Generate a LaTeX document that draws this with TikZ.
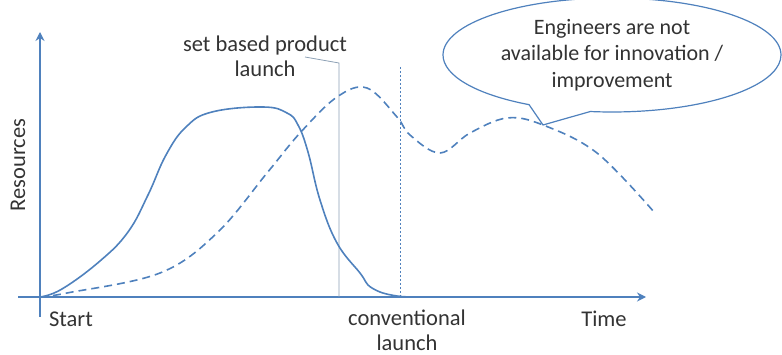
\documentclass[tikz,border=0pt]{standalone}
\usepackage{fontspec}
\setmainfont{Carlito}
\usetikzlibrary{arrows.meta,shapes.callouts,positioning}
\definecolor{officeblue}{RGB}{79,129,189}
\definecolor{leadgray}{RGB}{140,160,180}
\tikzset{
	axis/.style={color=officeblue, line width=2pt, -{Stealth[width=9pt,length=9pt]}},
	curve/.style={color=officeblue, line width=1.6pt},
	dashcurve/.style={color=officeblue, line width=1.6pt, dash pattern=on 8pt off 5pt},
	marker/.style={color=leadgray, line width=0.8pt},
	dotmarker/.style={color=officeblue, line width=0.8pt, dash pattern=on 2pt off 2pt},
	axlabel/.style={font=\fontsize{22.5}{25}\selectfont, text=black!80, inner sep=0pt, align=center},
	bubble/.style={ellipse callout, draw=officeblue, line width=1.2pt, fill=white,
		minimum width=338pt, minimum height=114pt, inner sep=0pt, callout pointer arc=22,
		font=\fontsize{22}{26.5}\selectfont, text=black!80, align=center}
}
\begin{document}
\begin{tikzpicture}[x=1pt,y=-1pt]
	\useasboundingbox (0,0) rectangle (782,355);
	
	%%%% axes
	\coordinate (o) at (40,297);
	\coordinate (ybot) at (40,317);
	\coordinate (ytip) at (40,32);
	\coordinate (xleft) at (18,297);
	\coordinate (xtip) at (646,297);
	\draw[axis] (ybot) -- (ytip);
	\draw[axis] (xleft) -- (xtip);
	
	%%%% labels
	\node[axlabel,rotate=90] (res) at (18,165) {Resources};
	\node[axlabel] (start) at (71,319) {Start};
	\node[axlabel] (time) at (604,319) {Time};
	\node[axlabel] (conv) at (407,330) {conventional\\launch};
	\node[axlabel] (setb) at (265,56) {set based product\\launch};
	
	%%%% launch markers
	\coordinate (leadA) at (305,57);
	\coordinate (leadB) at (339,63);
	\coordinate (setbot) at (339,297);
	\draw[marker] (leadA) -- (leadB) -- (setbot);
	\coordinate (convtop) at (400,67);
	\coordinate (convbot) at (400,297);
	\draw[dotmarker] (convtop) -- (convbot);
	
	%%%% set based curve
	\draw[curve] plot[smooth,tension=0.7] coordinates {
		(40,297) (62,289) (100,261) (128,232) (148,195) (166,155) (186,127)
		(212,112) (263,107) (287,113) (298,125) (308,152) (320,200) (337,243) (360,273)
		(372,288) (397,296) (430,297)};
	
	%%%% conventional curve
	\draw[dashcurve] plot[smooth,tension=0.6] coordinates {
		(40,297) (67,293) (160,273) (217,233) (267,173) (300,133) (337,97)
		(367,88) (397,117) (410,135) (440,153) (470,133) (507,118)
		(543,125) (597,153) (654,212)};
	
	%%%% callout
	\coordinate (tip) at (543,125);
	\node[bubble,callout absolute pointer={(tip)}] (note) at (612,55)
		{Engineers are not\\available for innovation /\\improvement};
\end{tikzpicture}
\end{document}
